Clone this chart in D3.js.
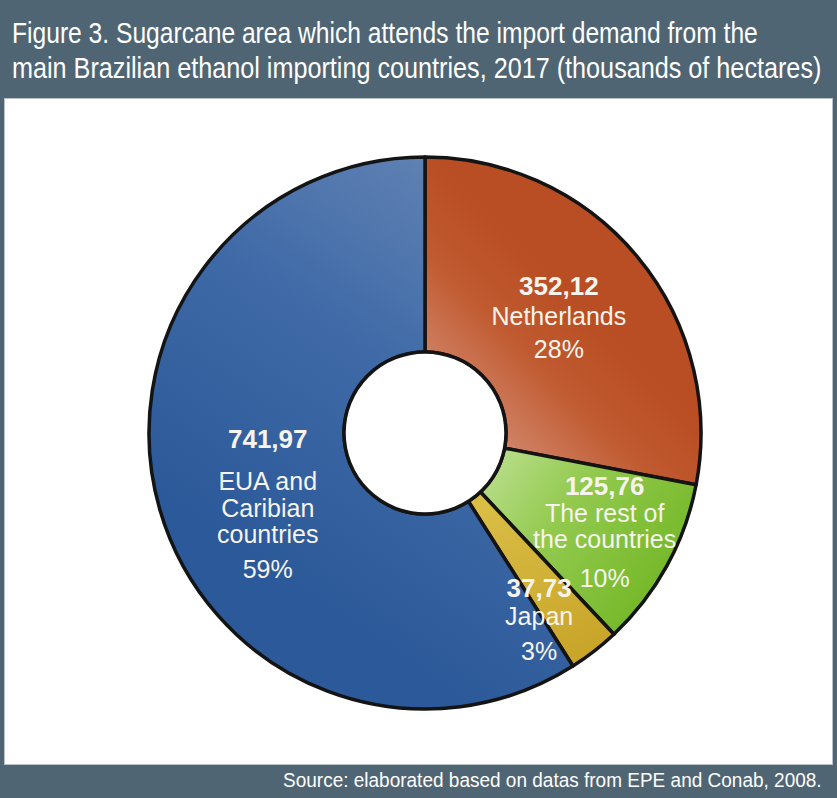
<!DOCTYPE html>
<html>
<head>
<meta charset="utf-8">
<script src="https://cdn.jsdelivr.net/npm/d3@7"></script>
<style>
  html, body { margin: 0; padding: 0; background: #4f6573; }
  svg { display: block; }
</style>
</head>
<body>
<svg id="chart" width="837" height="798"></svg>
<script>
// Sugarcane area by importing country, thousands of hectares
const countries = ["Netherlands", "The rest of the countries", "Japan", "EUA and Caribian countries"];
const areas = [352.12, 125.76, 37.73, 741.97];
const nameLines = [["Netherlands"], ["The rest of", "the countries"], ["Japan"], ["EUA and", "Caribian", "countries"]];

const titleLines = [
  "Figure 3. Sugarcane area which attends the import demand from the",
  "main Brazilian ethanol importing countries, 2017 (thousands of hectares)"
];
const sourceLead = "Source:";
const sourceText = " elaborated based on datas from EPE and Conab, 2008.";

const W = 837, H = 798;
const svg = d3.select("#chart");
const headerColor = "#4f6573";

// frame: slate header/footer with a white panel in between
svg.append("rect").attr("width", W).attr("height", H).attr("fill", headerColor);
svg.append("rect")
  .attr("x", 4.5).attr("y", 98.5).attr("width", 828).attr("height", 666)
  .attr("fill", "#ffffff").attr("stroke", "#b9c2c8").attr("stroke-width", 1);

// condensed text: squeeze a line horizontally to a given width
const condensedFont = "'Liberation Sans', Arial, sans-serif";
function condensed(sel, x, y, width, anchor) {
  const natural = sel.node().getComputedTextLength();
  const k = Math.min(1, width / natural);
  const left = anchor === "end" ? x - natural * k : x;
  sel.attr("x", 0).attr("y", 0)
    .attr("transform", `translate(${left},${y}) scale(${k},1)`);
}

// title
const titleWidths = [746, 810];
titleLines.forEach((t, i) => {
  const el = svg.append("text")
    .attr("fill", "#ffffff")
    .attr("font-family", condensedFont)
    .attr("font-size", 30)
    .text(t);
  condensed(el, 12, 43 + i * 35, titleWidths[i], "start");
});

// source note
const src = svg.append("text")
  .attr("fill", "#ffffff")
  .attr("font-family", condensedFont)
  .attr("font-size", 21);
src.append("tspan").text(sourceLead);
src.append("tspan").text(sourceText);
condensed(src, 822, 787, 539, "end");

// donut
const cx = 425, cy = 433, outerR = 276, innerR = 81;
const total = d3.sum(areas);
const data = countries.map((c, i) => ({ country: c, area: areas[i], lines: nameLines[i] }));

const pie = d3.pie().value(d => d.area).sort(null).startAngle(0).endAngle(2 * Math.PI);
const arc = d3.arc().innerRadius(innerR).outerRadius(outerR);
const arcs = pie(data);

// slice shading (gradient ends given in page pixels, shifted into the donut's frame)
const defs = svg.append("defs");
const shades = [
  { id: "g-neth", x1: 460, y1: 440, x2: 590, y2: 310, stops: [["0", "#d6917a"], ["0.6", "#c05a30"], ["1", "#b94d23"]] },
  { id: "g-rest", x1: 490, y1: 475, x2: 650, y2: 590, stops: [["0", "#b6dc86"], ["0.4", "#93ca4f"], ["1", "#77b92b"]] },
  { id: "g-japan", x1: 500, y1: 500, x2: 580, y2: 650, stops: [["0", "#d9bd45"], ["1", "#c9a62a"]] },
  { id: "g-eua", x1: 440, y1: 170, x2: 200, y2: 520, stops: [["0", "#5f81b3"], ["0.45", "#3f6aa7"], ["1", "#2c5999"]] }
];
shades.forEach(s => {
  const g = defs.append("linearGradient").attr("id", s.id)
    .attr("gradientUnits", "userSpaceOnUse")
    .attr("x1", s.x1 - cx).attr("y1", s.y1 - cy).attr("x2", s.x2 - cx).attr("y2", s.y2 - cy);
  s.stops.forEach(([o, c]) => g.append("stop").attr("offset", o).attr("stop-color", c));
});

const donut = svg.append("g").attr("transform", `translate(${cx},${cy})`);
donut.selectAll("path").data(arcs).join("path")
  .attr("d", arc)
  .attr("fill", (d, i) => `url(#${shades[i].id})`)
  .attr("stroke", "#141414")
  .attr("stroke-width", 3.5)
  .attr("stroke-linejoin", "round");

// labels: value (bold), name lines, share
const placement = [
  { turn: -6.2, r: 192, gaps: [30, 33] },
  { turn: -9.8, r: 190, gaps: [27, 26, 39] },
  { turn: 3.0, r: 200, gaps: [28, 35] },
  { turn: 10.7, r: 158, gaps: [42, 27, 26, 35] }
];
const fmtValue = v => d3.format(".2f")(v).replace(".", ",");
const fmtShare = v => Math.round(v / total * 100) + "%";
const labelFont = "'Liberation Sans', Arial, Helvetica, sans-serif";

arcs.forEach((a, i) => {
  const p = placement[i];
  const ang = (a.startAngle + a.endAngle) / 2 + p.turn * Math.PI / 180;
  const x = Math.sin(ang) * p.r;
  const y = -Math.cos(ang) * p.r;
  const rows = [{ t: fmtValue(a.data.area), bold: true }]
    .concat(a.data.lines.map(t => ({ t, bold: false })))
    .concat([{ t: fmtShare(a.data.area), bold: false }]);
  let yy = y;
  const g = donut.append("g");
  rows.forEach((row, k) => {
    if (k > 0) yy += p.gaps[k - 1];
    g.append("text")
      .attr("x", x).attr("y", yy)
      .attr("text-anchor", "middle")
      .attr("fill", "#f7f4ee")
      .attr("font-family", labelFont)
      .attr("font-size", row.bold ? 26 : 25)
      .attr("font-weight", row.bold ? "bold" : "normal")
      .text(row.t);
  });
});

// center hole
donut.append("circle")
  .attr("r", innerR)
  .attr("fill", "#ffffff")
  .attr("stroke", "#141414")
  .attr("stroke-width", 3.5);
</script>
</body>
</html>
